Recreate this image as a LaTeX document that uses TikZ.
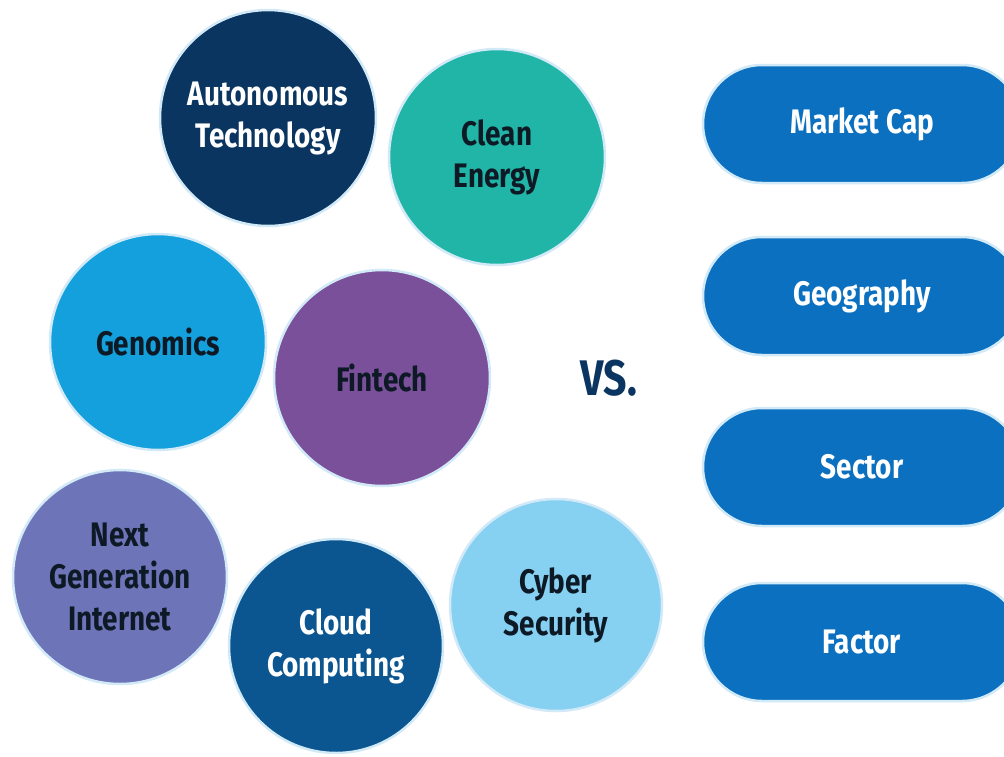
\documentclass[tikz,border=0pt]{standalone}
\usepackage{fontspec}
\setmainfont{Fira Sans}[FakeStretch=0.82]
\usetikzlibrary{shapes.misc}
\definecolor{cnavy}{HTML}{0A3560}
\definecolor{cteal}{HTML}{21B5A7}
\definecolor{cgen}{HTML}{14A0DC}
\definecolor{cfin}{HTML}{7B509A}
\definecolor{cnext}{HTML}{6E74B8}
\definecolor{ccloud}{HTML}{0B5690}
\definecolor{ccyber}{HTML}{86D0F2}
\definecolor{cpill}{HTML}{0B70BF}
\definecolor{cdark}{HTML}{0D1A26}
\definecolor{cring}{HTML}{D2E9F7}
\tikzset{
  x=1pt, y=-1pt,
  bubble/.style={circle, minimum size=216pt, inner sep=0pt, draw=cring, line width=2.5pt,
     align=center, font=\bfseries\fontsize{34}{42}\selectfont},
  pill/.style={rounded rectangle, minimum width=318pt, minimum height=118pt, inner sep=0pt,
     fill=cpill, draw=cring, line width=2.5pt, text=white, font=\bfseries\fontsize{34}{42}\selectfont},
}
\begin{document}
\begin{tikzpicture}
\useasboundingbox[fill=white] (0,0) rectangle (1004,756);
\node[bubble, fill=cnavy, text=white] (auto) at (268,118) {Autonomous\\Technology};
\node[bubble, fill=cteal, text=cdark] (clean) at (497,157) {Clean\\Energy};
\node[bubble, fill=cgen, text=cdark] (gen) at (158,342) {Genomics};
\node[bubble, fill=cfin, text=cdark] (fin) at (382,378) {Fintech};
\node[bubble, fill=cnext, text=cdark, minimum size=214pt] (next) at (120,577) {Next\\Generation\\Internet};
\node[bubble, fill=ccloud, text=white, minimum size=214pt] (cloud) at (336,646) {Cloud\\Computing};
\node[bubble, fill=ccyber, text=cdark, minimum size=212pt] (cyber) at (556,605) {Cyber\\Security};
\node[text=cnavy, font=\bfseries\fontsize{50}{54}\selectfont] (vs) at (609,378) {VS.};
\node[pill] (mcap) at (862,124) {Market Cap};
\node[pill] (geo) at (862,296) {Geography};
\node[pill] (sec) at (862,467) {Sector};
\node[pill] (fac) at (862,642) {Factor};
\end{tikzpicture}
\end{document}
